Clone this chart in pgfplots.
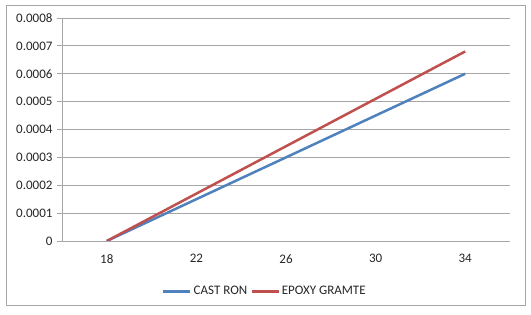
\documentclass[border=0pt]{standalone}
\usepackage{fontspec}
\setmainfont{Carlito}
\usepackage{pgfplots}
\pgfplotsset{compat=1.18}
\definecolor{xlblue}{HTML}{4F81BD}
\definecolor{xlred}{HTML}{C0504D}
\definecolor{gridc}{HTML}{A6A6A6}
\begin{document}
\begin{tikzpicture}[x=1pt,y=1pt]
\path[use as bounding box] (0,0) rectangle (531,315);
\fill[white] (0,0) rectangle (531,315);
\draw[gridc, line width=0.8pt] (6,10) rectangle (525,310);
\begin{axis}[
  at={(62pt,74pt)}, anchor=south west,
  scale only axis, width=448pt, height=223pt,
  xmin=-0.5, xmax=4.5, ymin=0, ymax=0.0008,
  xtick={0,1,2,3,4}, xticklabels={18,22,26,30,34},
  major x tick style={draw=none},
  extra x ticks={0.5,1.5,2.5,3.5},
  extra x tick labels={},
  extra x tick style={major tick length=5pt, tick style={draw=gridc, line width=0.8pt}, tick align=outside, grid=none},
  scaled y ticks=false,
  ytick={0,0.0001,0.0002,0.0003,0.0004,0.0005,0.0006,0.0007,0.0008},
  yticklabels={0,0.0001,0.0002,0.0003,0.0004,0.0005,0.0006,0.0007,0.0008},
  ymajorgrids, grid style={gridc, line width=0.8pt},
  y tick style={draw=gridc, line width=0.8pt}, tick align=outside, major tick length=5pt,
  axis x line*=bottom, axis y line*=left,
  axis line style={gridc, line width=0.8pt, -},
  tick label style={font=\fontsize{13}{15}\selectfont, text=black!85},
  xticklabel style={yshift=-5pt},
  yticklabel style={xshift=-1pt},
  legend style={at={(0.453,-0.185)}, anchor=north, draw=none, fill=none, legend columns=2,
    font=\fontsize{13}{15}\selectfont, text=black!85,
    /tikz/every even column/.append style={column sep=1pt}},
  legend image code/.code={\draw[#1, line width=2.5pt] (0pt,0pt) -- (27pt,0pt);},
]
\addplot[xlblue, line width=2.5pt] coordinates {(0,0) (1,0.00015) (2,0.0003) (3,0.00045) (4,0.0006)};
\addlegendentry{CAST RON}
\addplot[xlred, line width=2.5pt] coordinates {(0,0) (1,0.00017) (2,0.00034) (3,0.00051) (4,0.00068)};
\addlegendentry{EPOXY GRAMTE}
\end{axis}
\end{tikzpicture}
\end{document}
